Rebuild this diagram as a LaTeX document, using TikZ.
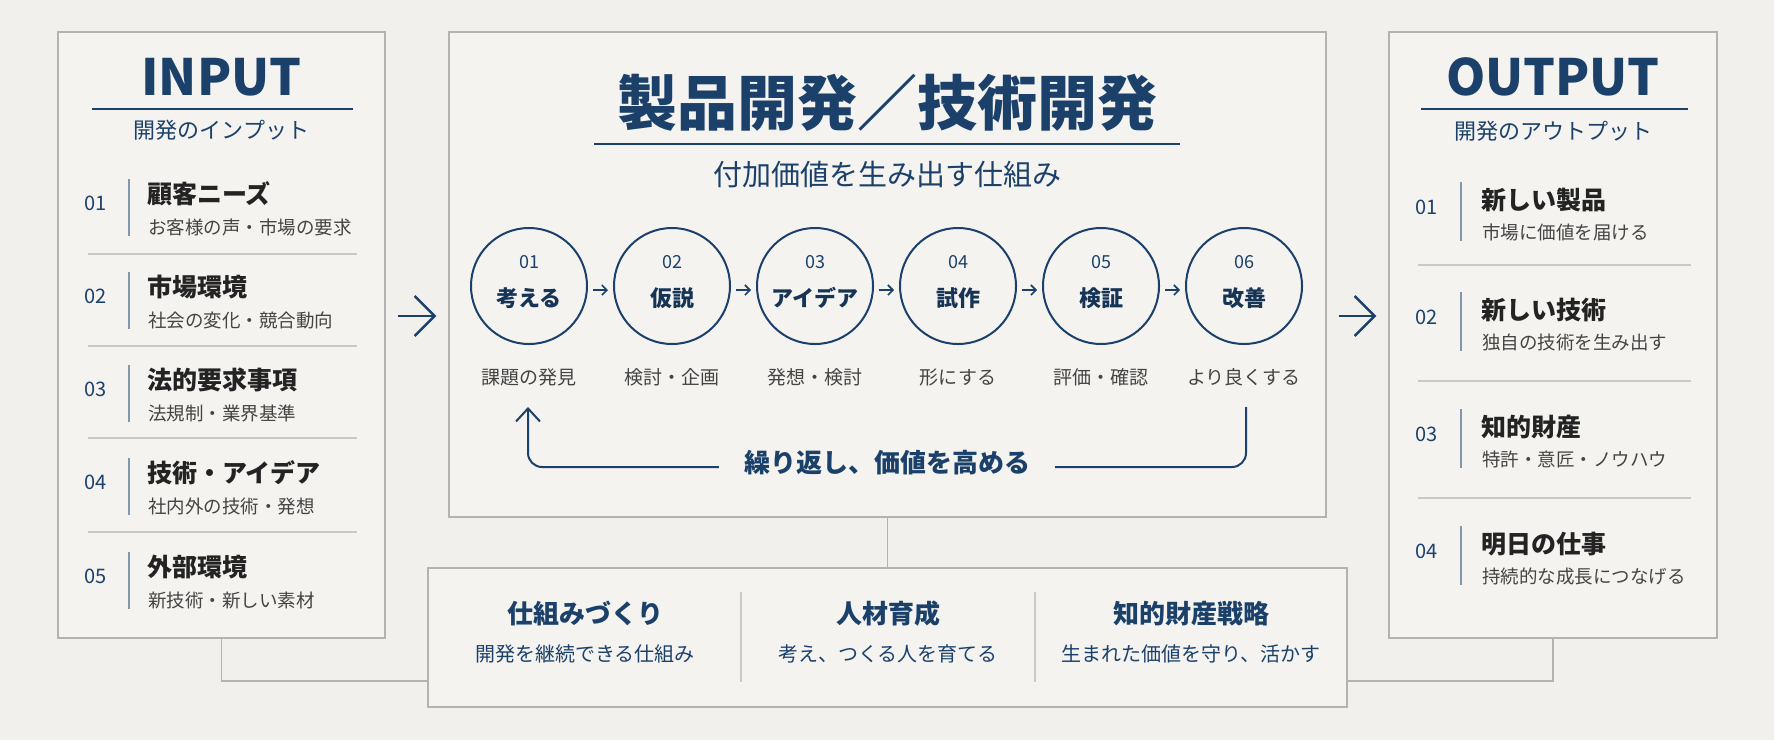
\documentclass[tikz,border=0pt]{standalone}
\usepackage{fontspec}
\setmainfont{Noto Sans CJK JP}
\usetikzlibrary{arrows.meta}

\definecolor{navy}{HTML}{1B416B}
\definecolor{ink}{HTML}{232323}
\definecolor{paper}{HTML}{F1F0EC}
\definecolor{card}{HTML}{F4F3EF}
\definecolor{frame}{HTML}{B3B3B1}
\definecolor{rule}{HTML}{C9C9C6}

\tikzset{
  panel/.style={draw=frame, line width=1.4pt, fill=card, inner sep=0pt},
  link/.style={draw=frame, line width=1.4pt},
  headline/.style={inner sep=0pt, text=navy, font=\bfseries\fontsize{50}{50}\selectfont},
  subhead/.style={inner sep=0pt, text=navy, font=\fontsize{22}{22}\selectfont},
  itemnum/.style={inner sep=0pt, text=navy, font=\fontsize{20}{20}\selectfont},
  itembar/.style={draw=navy!55, line width=1.5pt},
  itemhead/.style={anchor=west, inner sep=0pt, text=ink, font=\bfseries\fontsize{25}{25}\selectfont},
  itemnote/.style={anchor=west, inner sep=0pt, text=ink!85, font=\fontsize{18.5}{18.5}\selectfont},
  sep/.style={draw=rule, line width=1.2pt},
  title/.style={inner sep=0pt, text=navy, font=\bfseries\fontsize{60}{60}\selectfont},
  coresub/.style={inner sep=0pt, text=navy, font=\fontsize{29}{29}\selectfont},
  stage/.style={circle, draw=navy, line width=2pt, minimum size=116pt, inner sep=0pt},
  stagenum/.style={inner sep=0pt, text=navy, font=\fontsize{18}{18}\selectfont},
  stagehead/.style={inner sep=0pt, text=navy!80!black, font=\bfseries\fontsize{22}{22}\selectfont},
  stagenote/.style={inner sep=0pt, text=ink!85, font=\fontsize{19}{19}\selectfont},
  steparrow/.style={draw=navy, line width=1.6pt, -{Straight Barb[length=5pt,width=10pt]},
    shorten <=5pt, shorten >=5pt},
  bigarrow/.style={draw=navy, line width=2.4pt, -{Straight Barb[length=20pt,width=40pt]},
    shorten <=12pt, shorten >=12pt},
  loopline/.style={draw=navy, line width=2pt, rounded corners=14pt},
  looptext/.style={inner sep=0pt, text=navy, font=\bfseries\fontsize{26}{26}\selectfont},
  basehead/.style={inner sep=0pt, text=navy, font=\bfseries\fontsize{26}{26}\selectfont},
  basenote/.style={inner sep=0pt, text=navy, font=\fontsize{20}{20}\selectfont}
}

\begin{document}
\begin{tikzpicture}[x=1pt, y=-1pt]
  \useasboundingbox[fill=paper] (0,0) rectangle (1774,740);

  % panels
  \node[panel, minimum width=327pt, minimum height=606pt] (input) at (221.5,335) {};
  \node[panel, minimum width=877pt, minimum height=485pt] (core) at (887.5,274.5) {};
  \node[panel, minimum width=328pt, minimum height=606pt] (output) at (1553,335) {};
  \node[panel, minimum width=919pt, minimum height=139pt] (base) at (887.5,637.5) {};

  \coordinate (link) at (0,681);
  \draw[link] (input.south) |- (base.west |- link);
  \draw[link] (output.south) |- (base.east |- link);
  \draw[link] (core.south) -- (base.north);

  % input
  \node[headline] (intitle) at (221.5,77) {INPUT};
  \draw[navy, line width=1.2pt] (92,109) -- (353,109);
  \node[subhead] (insub) at (221.5,130) {開発のインプット};
  \foreach \n/\y/\head/\note in {01/203/顧客ニーズ/お客様の声・市場の要求,
      02/296/市場環境/社会の変化・競合動向, 03/389/法的要求事項/法規制・業界基準,
      04/482/技術・アイデア/社内外の技術・発想, 05/576/外部環境/新技術・新しい素材}{
    \node[itemnum] (innum\n) at (95.5,\y) {\n};
    \draw[itembar] (129,{\y-24}) -- (129,{\y+33});
    \node[itemhead] (inhead\n) at (147,{\y-9}) {\head};
    \node[itemnote] (innote\n) at (148,{\y+24}) {\note};
  }
  \foreach \y in {254,346,438,532}
    \draw[sep] (88,\y) -- (357,\y);

  % output
  \node[headline] (outtitle) at (1553,77) {OUTPUT};
  \draw[navy, line width=1.2pt] (1421,109) -- (1688,109);
  \node[subhead] (outsub) at (1553,131) {開発のアウトプット};
  \foreach \n/\y/\head/\note in {01/207/新しい製品/市場に価値を届ける,
      02/317/新しい技術/独自の技術を生み出す, 03/434/知的財産/特許・意匠・ノウハウ,
      04/551/明日の仕事/持続的な成長につなげる}{
    \node[itemnum] (outnum\n) at (1426.5,\y) {\n};
    \draw[itembar] (1461,{\y-25}) -- (1461,{\y+34});
    \node[itemhead] (outhead\n) at (1481,{\y-7}) {\head};
    \node[itemnote] (outnote\n) at (1482,{\y+25}) {\note};
  }
  \foreach \y in {265,381,498}
    \draw[sep] (1418,\y) -- (1691,\y);

  % core
  \node[title] (coretitle) at (887.5,103) {製品開発／技術開発};
  \draw[navy, line width=1.2pt] (594,144) -- (1180,144);
  \node[coresub] (coresubtitle) at (887.5,175) {付加価値を生み出す仕組み};
  \foreach \i/\x/\head/\note in {1/529/考える/課題の発見, 2/672/仮説/検討・企画,
      3/815/アイデア/発想・検討, 4/958/試作/形にする, 5/1101/検証/評価・確認,
      6/1244/改善/より良くする}{
    \node[stage] (s\i) at (\x,286) {};
    \node[stagenum] (n\i) at (\x,262) {0\i};
    \node[stagehead] (h\i) at (\x,298) {\head};
    \node[stagenote] (t\i) at (\x,377) {\note};
  }
  \foreach \i [count=\j from 2] in {1,...,5}
    \draw[steparrow] ([yshift=-4pt]s\i.east) -- ([yshift=-4pt]s\j.west);

  % loop back
  \node[looptext] (loop) at (887,463) {繰り返し、価値を高める};
  \coordinate (loopbase) at (0,467);
  \coordinate (loopstart) at (1246,407);
  \coordinate (loopend) at (528,407);
  \draw[loopline] (loopstart) |- ([xshift=25pt]loop.east |- loopbase);
  \draw[loopline, -{Straight Barb[length=13pt,width=24pt]}]
    ([xshift=-25pt]loop.west |- loopbase) -| (loopend);

  % flow arrows
  \coordinate (flow) at (0,316);
  \draw[bigarrow] (input.east |- flow) -- (core.west |- flow);
  \draw[bigarrow] (core.east |- flow) -- (output.west |- flow);

  % base
  \foreach \x/\head/\note [count=\k] in {585/仕組みづくり/開発を継続できる仕組み,
      888/人材育成/考え、つくる人を育てる, 1191/知的財産戦略/生まれた価値を守り、活かす}{
    \node[basehead] (b\k) at (\x,614) {\head};
    \node[basenote] (bn\k) at (\x,654) {\note};
  }
  \foreach \x in {741,1035}
    \draw[sep] (\x,592) -- (\x,682);
\end{tikzpicture}
\end{document}
